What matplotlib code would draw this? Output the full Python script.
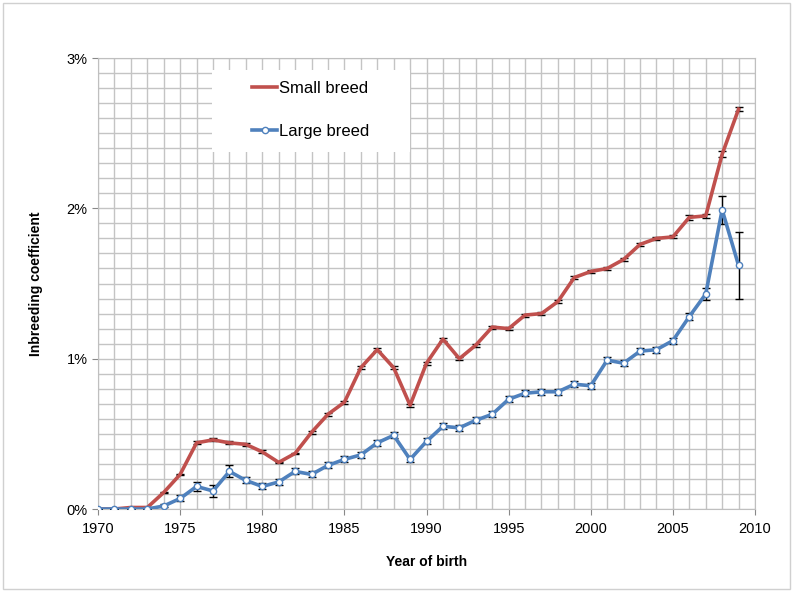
import matplotlib.pyplot as plt
from matplotlib.lines import Line2D
from matplotlib.ticker import PercentFormatter, MultipleLocator

plt.rcParams["font.family"] = ["Liberation Sans", "DejaVu Sans"]

years = list(range(1970, 2010))

# inbreeding coefficient, in percent
small_breed = [0.00, 0.00, 0.01, 0.01, 0.11, 0.23, 0.44, 0.46, 0.44, 0.43,
               0.38, 0.31, 0.37, 0.51, 0.63, 0.71, 0.94, 1.06, 0.94, 0.69,
               0.97, 1.13, 1.00, 1.09, 1.21, 1.20, 1.29, 1.30, 1.38, 1.54,
               1.58, 1.60, 1.66, 1.76, 1.80, 1.81, 1.94, 1.95, 2.36, 2.66]
small_err = [0.00, 0.00, 0.00, 0.00, 0.005, 0.005, 0.01, 0.01, 0.01, 0.01,
             0.01, 0.005, 0.005, 0.01, 0.01, 0.01, 0.01, 0.01, 0.01, 0.01,
             0.01, 0.01, 0.01, 0.01, 0.01, 0.01, 0.01, 0.01, 0.01, 0.01,
             0.01, 0.01, 0.01, 0.01, 0.01, 0.01, 0.015, 0.015, 0.02, 0.015]

large_breed = [0.00, 0.00, 0.00, 0.00, 0.02, 0.07, 0.15, 0.12, 0.25, 0.19,
               0.15, 0.18, 0.25, 0.23, 0.29, 0.33, 0.36, 0.44, 0.49, 0.33,
               0.45, 0.55, 0.54, 0.59, 0.63, 0.73, 0.77, 0.78, 0.78, 0.83,
               0.82, 0.99, 0.97, 1.05, 1.06, 1.12, 1.28, 1.43, 1.99, 1.62]
large_err = [0.00, 0.00, 0.00, 0.00, 0.01, 0.02, 0.03, 0.04, 0.04, 0.02,
             0.02, 0.02, 0.02, 0.02, 0.02, 0.02, 0.02, 0.02, 0.02, 0.02,
             0.02, 0.02, 0.02, 0.02, 0.02, 0.02, 0.02, 0.02, 0.02, 0.02,
             0.02, 0.02, 0.02, 0.02, 0.02, 0.02, 0.025, 0.04, 0.095, 0.22]

red = "#C0504D"
blue = "#4F81BD"

fig = plt.figure(figsize=(7.95, 5.92), dpi=100)
ax = fig.add_axes([0.1233, 0.1402, 0.8264, 0.7618])

ax.errorbar(years, small_breed, yerr=small_err, color=red, lw=2.6,
            ecolor="black", elinewidth=1, capsize=3, capthick=1, zorder=3)
ax.errorbar(years, large_breed, yerr=large_err, color=blue, lw=2.6,
            marker="o", markersize=4.5, markerfacecolor="white",
            markeredgecolor=blue, markeredgewidth=1,
            ecolor="black", elinewidth=1, capsize=3, capthick=1, zorder=4)

ax.set_xlim(1970, 2010)
ax.set_ylim(0, 3)
ax.xaxis.set_major_locator(MultipleLocator(5))
ax.xaxis.set_minor_locator(MultipleLocator(1))
ax.yaxis.set_major_locator(MultipleLocator(1))
ax.yaxis.set_minor_locator(MultipleLocator(0.1))
ax.yaxis.set_major_formatter(PercentFormatter(decimals=0))

ax.grid(which="both", color="#c4c4c4", lw=1, zorder=0)
ax.set_axisbelow(True)
for s in ax.spines.values():
    s.set_color("#bfbfbf")
ax.tick_params(which="major", length=4, color="#888888", labelsize=10.5)
ax.tick_params(axis="x", which="major", pad=5)
ax.tick_params(which="minor", length=0)

ax.set_xlabel("Year of birth", fontsize=10, fontweight="bold", labelpad=14)
ax.set_ylabel("Inbreeding coefficient", fontsize=10, fontweight="bold", labelpad=17)

# white box behind the legend, hiding the grid
fig.patches.append(plt.Rectangle((212 / 795, 1 - 152 / 592), 198 / 795, 82 / 592,
                                 transform=fig.transFigure, facecolor="white",
                                 edgecolor="none", zorder=2))

handles = [Line2D([], [], color=red, lw=2.6),
           Line2D([], [], color=blue, lw=2.6, marker="o", markersize=4.5,
                  markerfacecolor="white", markeredgecolor=blue, markeredgewidth=1)]
leg = fig.legend(handles, ["Small breed", "Large breed"], loc="upper left",
                 bbox_to_anchor=(252 / 795, 1 - 81 / 592), fontsize=12,
                 frameon=False, labelspacing=1.66, handlelength=1.5,
                 borderpad=0, borderaxespad=0, handletextpad=0.1)
leg.set_zorder(5)

fig.patches.append(plt.Rectangle((0.004, 0.005), 0.99, 0.99, transform=fig.transFigure,
                                 fill=False, edgecolor="#d0d0d0", lw=1))

fig.savefig("out.png", dpi=100)
